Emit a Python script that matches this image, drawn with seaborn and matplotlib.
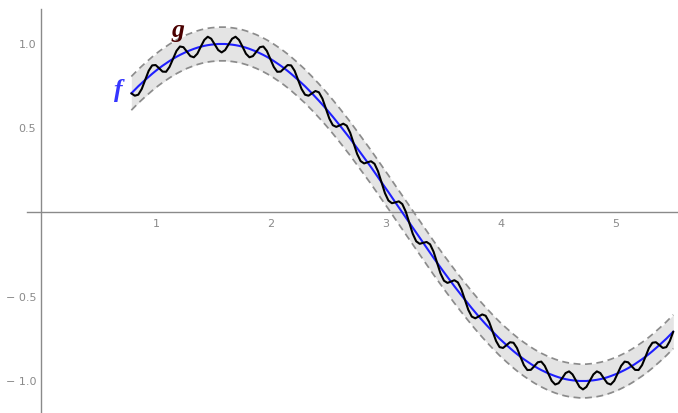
import numpy as np
import pandas as pd
import seaborn as sns
import matplotlib.pyplot as plt
from matplotlib.ticker import FixedLocator

# ---------------- data ----------------
# sample positions run from about pi/4 to 5.5
x_start, x_end, n_pts = 0.785, 5.498, 157

# f (blue curve)
f_vals = [0.707, 0.728, 0.749, 0.768, 0.787, 0.805, 0.823, 0.840, 0.856, 0.871,
          0.885, 0.899, 0.912, 0.924, 0.935, 0.945, 0.955, 0.963, 0.971, 0.978,
          0.984, 0.989, 0.993, 0.996, 0.998, 1.000, 1.000,
          1.000, 0.998, 0.996, 0.993, 0.989, 0.984, 0.978, 0.971, 0.963, 0.955,
          0.945, 0.935, 0.924, 0.912, 0.899, 0.885, 0.871, 0.856, 0.840, 0.823,
          0.805, 0.787, 0.768, 0.749, 0.728, 0.707,
          0.685, 0.663, 0.640, 0.617, 0.593, 0.568, 0.543, 0.517, 0.491, 0.465,
          0.438, 0.410, 0.383, 0.355, 0.326, 0.298, 0.269, 0.239, 0.210, 0.180,
          0.150, 0.121, 0.090, 0.060, 0.030, 0.000,
          -0.030, -0.060, -0.090, -0.121, -0.150, -0.180, -0.210, -0.239, -0.269,
          -0.298, -0.326, -0.355, -0.383, -0.410, -0.438, -0.465, -0.491, -0.517,
          -0.543, -0.568, -0.593, -0.617, -0.640, -0.663, -0.685, -0.707,
          -0.728, -0.749, -0.768, -0.787, -0.805, -0.823, -0.840, -0.856, -0.871,
          -0.885, -0.899, -0.912, -0.924, -0.935, -0.945, -0.955, -0.963, -0.971,
          -0.978, -0.984, -0.989, -0.993, -0.996, -0.998, -1.000, -1.000,
          -1.000, -0.998, -0.996, -0.993, -0.989, -0.984, -0.978, -0.971, -0.963,
          -0.955, -0.945, -0.935, -0.924, -0.912, -0.899, -0.885, -0.871, -0.856,
          -0.840, -0.823, -0.805, -0.787, -0.768, -0.749, -0.728, -0.707]

# g (black wiggly curve)
g_vals = [0.707, 0.693, 0.699, 0.733, 0.787, 0.841, 0.873, 0.875, 0.856, 0.836,
          0.835, 0.864, 0.912, 0.959, 0.985, 0.981, 0.955, 0.928, 0.921, 0.942,
          0.984, 1.024, 1.043, 1.031, 0.998, 0.964, 0.950, 0.964, 0.998, 1.031,
          1.043, 1.024, 0.984, 0.942, 0.921, 0.928, 0.955, 0.981, 0.985, 0.959,
          0.912, 0.864, 0.835, 0.836, 0.856, 0.875, 0.873, 0.841, 0.787, 0.733,
          0.699, 0.693, 0.707, 0.721, 0.713, 0.676, 0.617, 0.557, 0.518, 0.508,
          0.517, 0.527, 0.515, 0.473, 0.410, 0.347, 0.305, 0.291, 0.298, 0.304,
          0.289, 0.245, 0.180, 0.115, 0.071, 0.055, 0.060, 0.066, 0.050, 0.005,
          -0.060, -0.126, -0.171, -0.186, -0.180, -0.175, -0.189, -0.233, -0.298, -0.362,
          -0.405, -0.418, -0.410, -0.402, -0.415, -0.456, -0.517, -0.578, -0.618, -0.628,
          -0.617, -0.605, -0.613, -0.650, -0.707, -0.763, -0.799, -0.804, -0.787, -0.770,
          -0.773, -0.804, -0.856, -0.906, -0.935, -0.934, -0.912, -0.889, -0.885, -0.910,
          -0.955, -0.999, -1.021, -1.013, -0.984, -0.953, -0.943, -0.961, -0.998, -1.035,
          -1.050, -1.035, -0.998, -0.961, -0.943, -0.953, -0.984, -1.013, -1.021, -0.999,
          -0.955, -0.910, -0.885, -0.889, -0.912, -0.934, -0.935, -0.906, -0.856, -0.804,
          -0.773, -0.770, -0.787, -0.804, -0.799, -0.763, -0.707]

# half width of the grey band around f
eps = 0.1

x_major = [1, 2, 3, 4, 5]
x_labels = ["1", "2", "3", "4", "5"]
y_major = [-1.0, -0.5, 0.5, 1.0]
y_labels = ["\u2212 1.0", "\u2212 0.5", "0.5", "1.0"]

# ---------------- table ----------------
df = pd.DataFrame({"x": np.linspace(x_start, x_end, n_pts), "f": f_vals, "g": g_vals})
df["upper"] = df["f"] + eps
df["lower"] = df["f"] - eps

# ---------------- plot ----------------
sns.set_style("white")
fig = plt.figure(figsize=(6.78, 4.13), dpi=100)
ax = fig.add_axes([0, 0, 1, 1])

ax.fill_between(df["x"], df["lower"], df["upper"], color="#e4e4e4", lw=0, zorder=1)
dash = (0, (4, 2.6))
sns.lineplot(data=df, x="x", y="upper", color="#8c8c8c", lw=1.25, linestyle=dash, ax=ax, zorder=2)
sns.lineplot(data=df, x="x", y="lower", color="#8c8c8c", lw=1.25, linestyle=dash, ax=ax, zorder=2)
sns.lineplot(data=df, x="x", y="f", color="#1f1fff", lw=1.5, ax=ax, zorder=3)
sns.lineplot(data=df, x="x", y="g", color="black", lw=1.5, ax=ax, zorder=4)

ax.set_xlim(-0.357, 5.539)
ax.set_ylim(-1.19, 1.261)
ax.set_xlabel("")
ax.set_ylabel("")

# axes crossing at the origin
axis_col = "#8a8a8a"
ax.spines["top"].set_visible(False)
ax.spines["right"].set_visible(False)
ax.spines["left"].set_position(("data", 0))
ax.spines["bottom"].set_position(("data", 0))
ax.spines["left"].set_bounds(-1.19, 1.206)
ax.spines["bottom"].set_bounds(-0.122, 5.539)
for s in ["left", "bottom"]:
    ax.spines[s].set_color(axis_col)
    ax.spines[s].set_linewidth(1.0)

ax.xaxis.set_major_locator(FixedLocator(x_major))
ax.set_xticklabels(x_labels)
ax.xaxis.set_minor_locator(FixedLocator([i / 5 for i in range(1, 28) if i % 5]))
ax.yaxis.set_major_locator(FixedLocator(y_major))
ax.set_yticklabels(y_labels)
ax.yaxis.set_minor_locator(FixedLocator([i / 10 for i in range(-11, 13) if i % 5]))

ax.tick_params(which="both", direction="in", color=axis_col, width=0.8,
               labelsize=8, labelcolor="#8a8a8a")
ax.tick_params(which="major", length=3.2)
ax.tick_params(which="minor", length=2)
ax.tick_params(axis="x", which="major", pad=4.5)
ax.tick_params(axis="y", which="major", pad=3.5)

# curve names
ax.text(0.67, 0.722, "f", color="#3535ff", fontsize=18.5, family="Liberation Serif",
        style="italic", weight="bold", ha="center", va="center", zorder=5)
ax.text(1.19, 1.08, "g", color="#4a0000", fontsize=18.5, family="Liberation Serif",
        style="italic", weight="bold", ha="center", va="center", zorder=5)

plt.savefig("out.png", dpi=100)
